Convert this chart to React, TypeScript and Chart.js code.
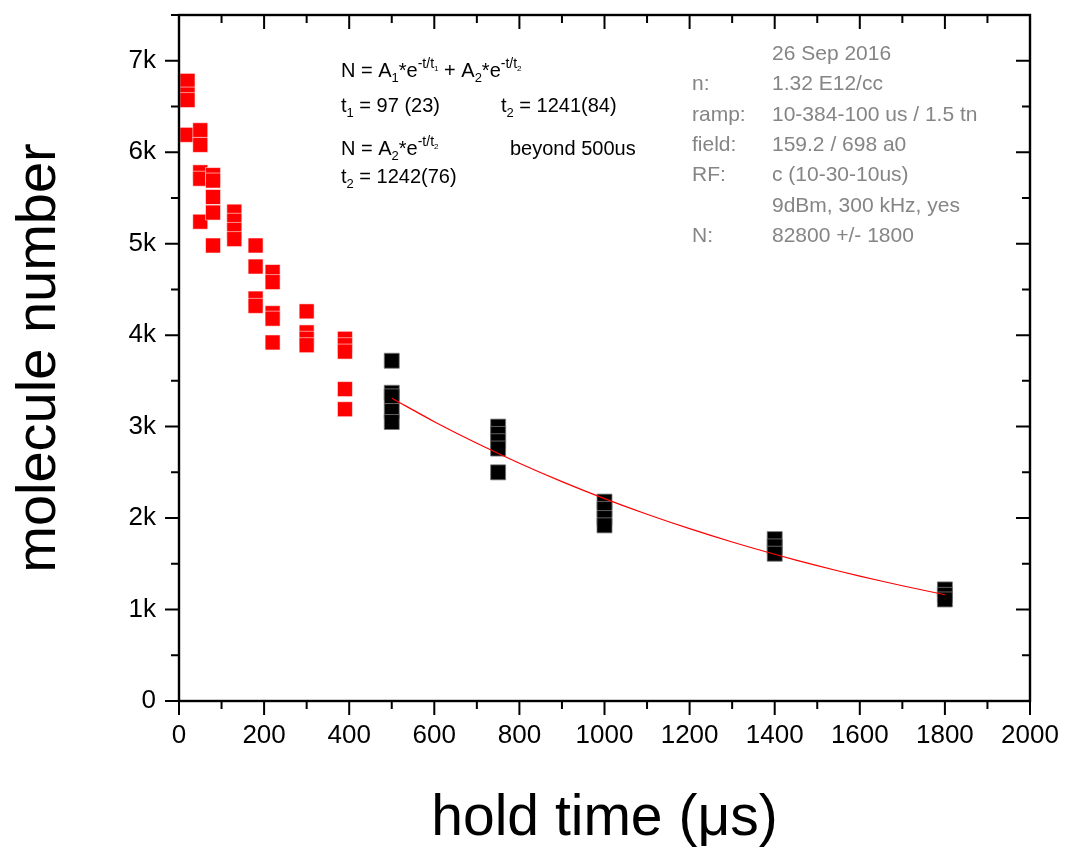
import React, { useEffect, useRef } from 'react';
import { Chart, registerables } from 'chart.js';

Chart.register(...registerables);

// ---- data ----
const earlyTimes = [20, 50, 80, 130, 180, 220, 300, 390];
const earlyCounts = [
  [6780, 6630, 6570, 6190],
  [6240, 6080, 5780, 5710, 5240],
  [5750, 5690, 5510, 5340, 4980],
  [5350, 5250, 5150, 5050],
  [4980, 4750, 4400, 4320],
  [4690, 4580, 4240, 4180, 3920],
  [4260, 4030, 3960, 3890],
  [3960, 3890, 3820, 3410, 3190],
];
const lateTimes = [500, 750, 1000, 1400, 1800];
const lateCounts = [
  [3720, 3370, 3330, 3170, 3050],
  [3000, 2920, 2840, 2760, 2500],
  [2180, 2100, 2000, 1920],
  [1770, 1690, 1610],
  [1220, 1160, 1110],
];
const fitTimes = [500, 600, 700, 800, 900, 1000, 1100, 1200, 1300, 1400, 1500, 1600, 1700, 1800];
const fitCounts = [3310, 3054, 2818, 2600, 2399, 2213, 2042, 1884, 1738, 1604, 1480, 1365, 1260, 1162];

const xTickValues = [0, 200, 400, 600, 800, 1000, 1200, 1400, 1600, 1800, 2000];
const xTickLabels = ['0', '200', '400', '600', '800', '1000', '1200', '1400', '1600', '1800', '2000'];
const yTickValues = [0, 1000, 2000, 3000, 4000, 5000, 6000, 7000];
const yTickLabels = ['0', '1k', '2k', '3k', '4k', '5k', '6k', '7k'];

const infoLabels = ['', 'n:', 'ramp:', 'field:', 'RF:', '', 'N:'];
const infoValues = ['26 Sep 2016', '1.32 E12/cc', '10-384-100 us / 1.5 tn', '159.2 / 698 a0', 'c (10-30-10us)', '9dBm, 300 kHz, yes', '82800 +/- 1800'];

const FONT = '"Liberation Sans", Arial, Helvetica, sans-serif';

type Run = [string, number, number];

function drawRuns(ctx: CanvasRenderingContext2D, x: number, y: number, runs: Run[]) {
  let cx = x;
  for (const [txt, size, dy] of runs) {
    ctx.font = `${size}px ${FONT}`;
    ctx.fillText(txt, cx, y + dy);
    cx += ctx.measureText(txt).width;
  }
}

const framePlugin = {
  id: 'frameTicks',
  afterDatasetsDraw(chart: any) {
    const { ctx, chartArea } = chart;
    const { left, right, top, bottom } = chartArea;
    const xs = chart.scales.x;
    const ys = chart.scales.y;
    ctx.save();
    ctx.strokeStyle = '#000';
    ctx.lineWidth = 2;
    ctx.lineCap = 'butt';
    ctx.beginPath();
    for (let v = 0; v <= 2000; v += 100) {
      const px = xs.getPixelForValue(v);
      const len = v % 200 === 0 ? 14 : 8;
      ctx.moveTo(px, bottom);
      ctx.lineTo(px, bottom + len);
      ctx.moveTo(px, top);
      ctx.lineTo(px, top + len);
    }
    for (let v = 0; v <= 7500; v += 500) {
      const py = ys.getPixelForValue(v);
      const len = v % 1000 === 0 ? 14 : 8;
      ctx.moveTo(left, py);
      ctx.lineTo(left - len, py);
      ctx.moveTo(right, py);
      ctx.lineTo(right - len, py);
    }
    ctx.stroke();
    ctx.lineWidth = 2.4;
    ctx.strokeRect(left, top, right - left, bottom - top);
    ctx.restore();
  },
  afterDraw(chart: any) {
    const { ctx } = chart;
    ctx.save();
    ctx.textAlign = 'left';
    ctx.textBaseline = 'alphabetic';
    ctx.fillStyle = '#000';
    drawRuns(ctx, 341, 77, [
      ['N = A', 20, 0], ['1', 13, 5], ['*e', 20, 0], ['-t/t', 14, -9], ['1', 8, -6],
      [' + A', 20, 0], ['2', 13, 5], ['*e', 20, 0], ['-t/t', 14, -9], ['2', 8, -6],
    ]);
    drawRuns(ctx, 341, 112, [['t', 20, 0], ['1', 13, 5], [' = 97 (23)', 20, 0]]);
    drawRuns(ctx, 501, 112, [['t', 20, 0], ['2', 13, 5], [' = 1241(84)', 20, 0]]);
    drawRuns(ctx, 341, 155, [['N = A', 20, 0], ['2', 13, 5], ['*e', 20, 0], ['-t/t', 14, -9], ['2', 8, -6]]);
    drawRuns(ctx, 510, 155, [['beyond 500us', 20, 0]]);
    drawRuns(ctx, 341, 183, [['t', 20, 0], ['2', 13, 5], [' = 1242(76)', 20, 0]]);

    ctx.fillStyle = '#858585';
    ctx.font = `21px ${FONT}`;
    infoValues.forEach((val, i) => {
      const y = 60 + i * 30.3;
      if (infoLabels[i]) ctx.fillText(infoLabels[i], 692, y);
      ctx.fillText(val, 772, y);
    });
    ctx.restore();
  },
};

export default function App() {
  const ref = useRef<HTMLCanvasElement>(null);
  useEffect(() => {
    Chart.defaults.font.family = FONT;
    const earlyPts = earlyTimes.flatMap((t, i) => earlyCounts[i].map((c) => ({ x: t, y: c })));
    const latePts = lateTimes.flatMap((t, i) => lateCounts[i].map((c) => ({ x: t, y: c })));
    const fitPts = fitTimes.map((t, i) => ({ x: t, y: fitCounts[i] }));
    const chart = new Chart(ref.current!, {
      type: 'scatter',
      data: {
        datasets: [
          {
            type: 'line',
            data: fitPts,
            borderColor: '#ff0000',
            borderWidth: 1.2,
            pointRadius: 0,
            fill: false,
            tension: 0.3,
            order: 0,
          } as any,
          {
            data: earlyPts,
            pointStyle: 'rect',
            pointRadius: 10.6,
            backgroundColor: '#ff0000',
            borderColor: 'rgba(255,255,255,0.55)',
            borderWidth: 1,
            order: 1,
          },
          {
            data: latePts,
            pointStyle: 'rect',
            pointRadius: 10.6,
            backgroundColor: '#000000',
            borderColor: 'rgba(120,120,120,0.8)',
            borderWidth: 1,
            order: 1,
          },
        ],
      },
      options: {
        animation: false,
        responsive: false,
        layout: { padding: { top: 15, right: 38, left: 0, bottom: 0 } },
        plugins: { legend: { display: false }, tooltip: { enabled: false } },
        events: [],
        scales: {
          x: {
            type: 'linear',
            bounds: 'data',
            min: 0,
            max: 2000,
            afterBuildTicks: (s: any) => { s.ticks = xTickValues.map((v) => ({ value: v })); },
            afterFit: (s: any) => { s.height = 152; s.paddingLeft = 0; s.paddingRight = 0; },
            ticks: {
              autoSkip: false,
              maxRotation: 0,
              padding: 5,
              color: '#000',
              font: { size: 26 },
              callback: (_v: any, i: number) => xTickLabels[i] ?? '',
            },
            grid: { color: 'rgba(0,0,0,0)', drawOnChartArea: false, tickLength: 14 },
            border: { display: false },
            title: {
              display: true,
              text: 'hold time (μs)',
              color: '#000',
              font: { size: 57 },
              padding: { top: 0, bottom: 0 },
            },
          },
          y: {
            type: 'linear',
            bounds: 'data',
            min: 0,
            max: 7500,
            afterBuildTicks: (s: any) => { s.ticks = yTickValues.map((v) => ({ value: v })); },
            afterFit: (s: any) => { s.width = 179; s.paddingTop = 0; s.paddingBottom = 0; },
            ticks: {
              autoSkip: false,
              padding: 9,
              color: '#000',
              font: { size: 26 },
              callback: (_v: any, i: number) => yTickLabels[i] ?? '',
            },
            grid: { color: 'rgba(0,0,0,0)', drawOnChartArea: false, tickLength: 14 },
            border: { display: false },
            title: {
              display: true,
              text: 'molecule number',
              color: '#000',
              font: { size: 56 },
              padding: { top: 6, bottom: 0 },
            },
          },
        },
      },
      plugins: [framePlugin],
    } as any);
    return () => chart.destroy();
  }, []);
  return (
    <div style={{ position: 'fixed', left: 0, top: 0, width: 1068, height: 853, background: '#fff' }}>
      <canvas ref={ref} width={1068} height={853} style={{ display: 'block' }} />
    </div>
  );
}
